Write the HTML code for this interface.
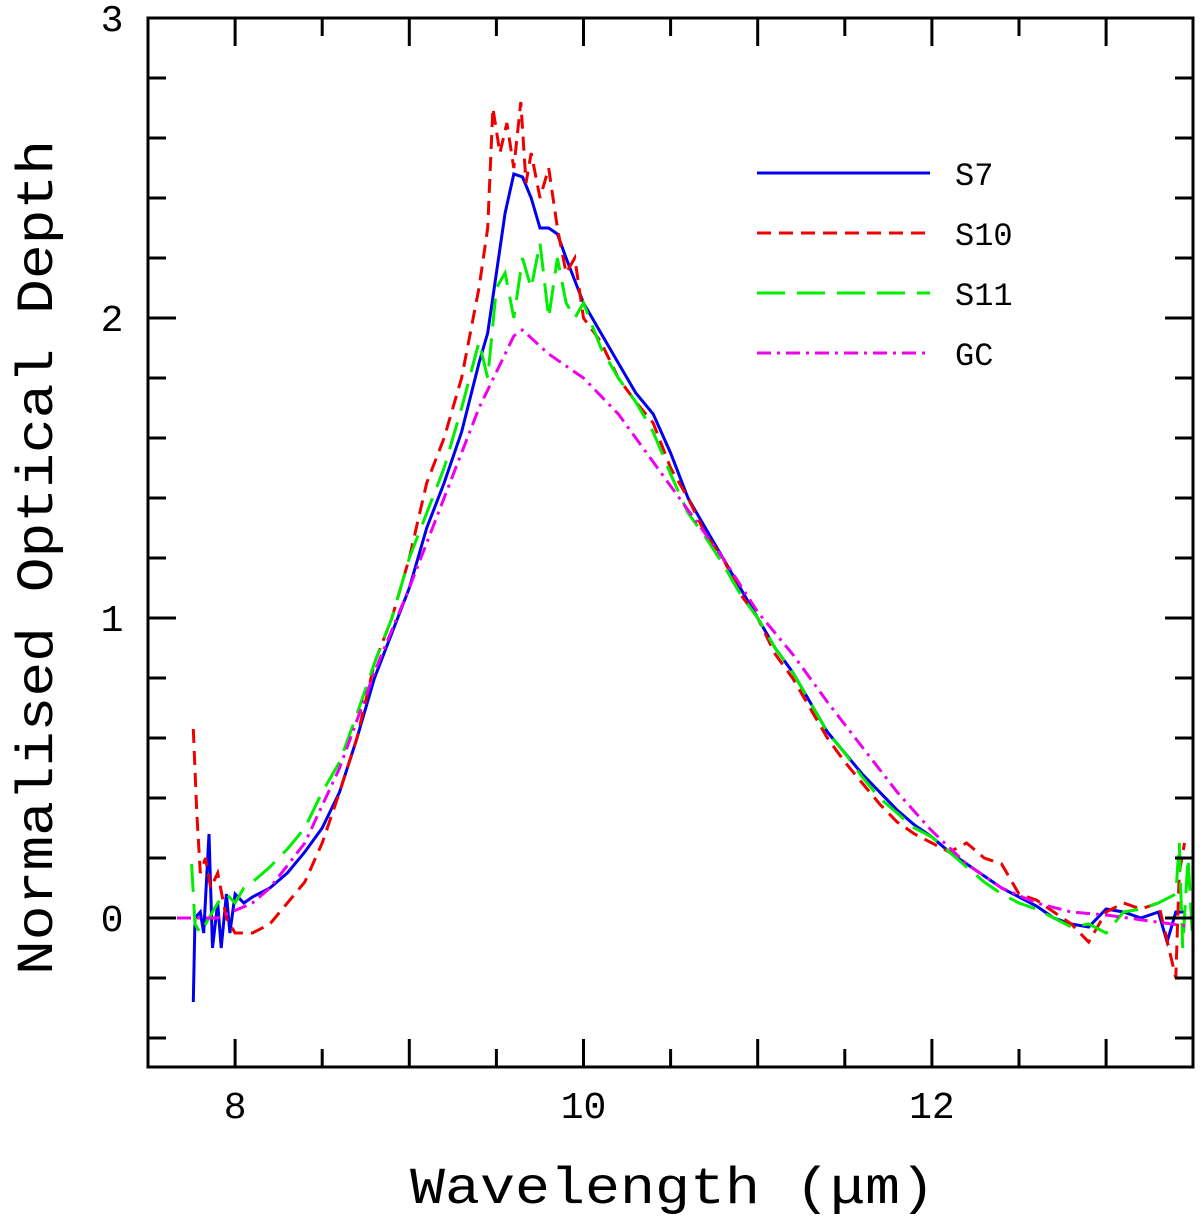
<!DOCTYPE html>
<html><head><meta charset="utf-8"><style>
body{margin:0;background:#fff}
svg text{font-family:"Liberation Mono",monospace;fill:#000}
</style></head><body>
<svg id="c" width="1200" height="1220" xmlns="http://www.w3.org/2000/svg">
<g id="marks"></g>
<rect x="148" y="18" width="1045" height="1049" fill="none" stroke="#000" stroke-width="3"/>
<g id="ticks" stroke="#000" stroke-width="3"></g>
<g id="labels" font-size="38" text-anchor="middle"></g>
<text x="410" y="1203" font-size="52" textLength="525" lengthAdjust="spacingAndGlyphs">Wavelength (μm)</text>
<text transform="translate(52,975) rotate(-90)" font-size="52" textLength="835" lengthAdjust="spacingAndGlyphs">Normalised Optical Depth</text>
<g id="legend" font-size="32"></g>
</svg>
<script>
const xTicksLabeled=[8,10,12];
const yTicksLabeled=[0,1,2,3];
const s7x=[7.76,7.77,7.8,7.82,7.85,7.87,7.9,7.92,7.95,7.97,8.0,8.05,8.1,8.2,8.3,8.4,8.5,8.6,8.7,8.8,8.9,9.0,9.1,9.2,9.3,9.4,9.45,9.5,9.55,9.6,9.65,9.7,9.75,9.8,9.85,9.9,10.0,10.1,10.2,10.3,10.4,10.5,10.6,10.7,10.8,10.9,11.0,11.1,11.2,11.3,11.4,11.5,11.6,11.7,11.8,11.9,12.0,12.1,12.2,12.3,12.4,12.5,12.6,12.7,12.8,12.9,13.0,13.1,13.2,13.3,13.35,13.4,13.45];
const s7y=[-0.28,0.0,0.02,-0.05,0.28,-0.1,0.05,-0.1,0.08,-0.05,0.08,0.05,0.07,0.1,0.15,0.22,0.3,0.42,0.6,0.8,0.95,1.1,1.3,1.45,1.62,1.85,1.95,2.15,2.35,2.48,2.47,2.4,2.3,2.3,2.28,2.2,2.05,1.95,1.85,1.75,1.68,1.55,1.4,1.3,1.2,1.1,1.0,0.9,0.82,0.72,0.62,0.55,0.48,0.42,0.36,0.31,0.27,0.22,0.18,0.14,0.1,0.07,0.04,0.0,-0.02,-0.03,0.03,0.02,0.0,0.02,-0.08,0.02,0.02];
const s10x=[7.76,7.78,7.8,7.83,7.86,7.9,7.95,8.0,8.1,8.2,8.3,8.4,8.5,8.6,8.7,8.8,8.9,9.0,9.1,9.2,9.3,9.4,9.45,9.48,9.52,9.56,9.6,9.64,9.67,9.7,9.75,9.8,9.85,9.9,9.95,10.0,10.1,10.2,10.3,10.4,10.5,10.6,10.7,10.8,10.9,11.0,11.1,11.2,11.3,11.4,11.5,11.6,11.7,11.8,11.9,12.0,12.1,12.2,12.3,12.4,12.5,12.6,12.7,12.8,12.9,13.0,13.1,13.2,13.3,13.4,13.42,13.45];
const s10y=[0.63,0.35,0.15,0.2,0.1,0.15,0.0,-0.05,-0.05,-0.02,0.05,0.12,0.25,0.42,0.6,0.85,1.0,1.2,1.45,1.6,1.8,2.1,2.3,2.7,2.55,2.65,2.5,2.72,2.45,2.55,2.4,2.5,2.3,2.15,2.2,2.0,1.92,1.8,1.72,1.65,1.5,1.4,1.28,1.2,1.08,1.0,0.88,0.8,0.7,0.6,0.52,0.45,0.38,0.32,0.28,0.25,0.22,0.25,0.2,0.18,0.08,0.06,0.02,-0.02,-0.08,0.02,0.05,0.03,0.05,-0.2,0.15,0.25];
const s11x=[7.75,7.77,7.8,7.85,7.9,7.95,8.0,8.05,8.1,8.2,8.3,8.4,8.5,8.6,8.7,8.8,8.9,9.0,9.1,9.2,9.3,9.4,9.45,9.5,9.55,9.6,9.65,9.7,9.75,9.8,9.85,9.9,9.95,10.0,10.1,10.2,10.3,10.4,10.5,10.6,10.7,10.8,10.9,11.0,11.1,11.2,11.3,11.4,11.5,11.6,11.7,11.8,11.9,12.0,12.1,12.2,12.3,12.4,12.5,12.6,12.7,12.8,12.9,13.0,13.1,13.2,13.3,13.4,13.42,13.44,13.47,13.5];
const s11y=[0.18,-0.02,-0.05,0.0,0.05,0.08,0.05,0.1,0.12,0.17,0.23,0.3,0.42,0.52,0.68,0.85,1.0,1.2,1.35,1.5,1.7,1.92,1.8,2.1,2.15,2.0,2.2,2.1,2.25,2.0,2.2,2.05,2.0,2.05,1.9,1.8,1.72,1.62,1.48,1.35,1.27,1.18,1.08,1.0,0.9,0.82,0.72,0.62,0.55,0.47,0.4,0.35,0.3,0.27,0.22,0.17,0.12,0.08,0.05,0.03,0.0,-0.03,-0.02,-0.05,0.02,0.03,0.05,0.08,0.25,-0.1,0.2,-0.1];
const gcx=[7.5,7.9,8.1,8.2,8.4,8.6,8.8,9.0,9.2,9.4,9.6,9.65,9.8,10.0,10.2,10.4,10.6,10.8,11.0,11.2,11.4,11.6,11.8,12.0,12.2,12.4,12.6,12.8,13.0,13.5];
const gcy=[0,0,0.05,0.1,0.25,0.5,0.82,1.1,1.4,1.7,1.94,1.96,1.88,1.8,1.68,1.52,1.36,1.2,1.02,0.88,0.72,0.57,0.42,0.29,0.18,0.1,0.05,0.02,0.01,-0.03];
const series=[
 {name:'S7',x:s7x,y:s7y,color:'#0000ee',dash:''},
 {name:'S10',x:s10x,y:s10y,color:'#ee0000',dash:'14,8'},
 {name:'S11',x:s11x,y:s11y,color:'#00ee00',dash:'28,12'},
 {name:'GC',x:gcx,y:gcy,color:'#ee00ee',dash:'14,6,3,6'}
];
const X=v=>148+(v-7.5)*174.2;
const Y=v=>918-v*300;
const NS='http://www.w3.org/2000/svg';
function mk(tag,parent){const e=document.createElementNS(NS,tag);document.getElementById(parent).appendChild(e);return e;}
series.forEach(s=>{
 const p=mk('path','marks');
 
 
 p.setAttribute('d',s.x.map((v,i)=>(i?'L':'M')+X(v).toFixed(1)+','+Y(s.y[i]).toFixed(1)).join(''));
 p.setAttribute('fill','none');p.setAttribute('stroke',s.color);p.setAttribute('stroke-width','3');
 if(s.dash)p.setAttribute('stroke-dasharray',s.dash);
});
for(let v=8;v<=13.01;v+=0.5){
 const len=Number.isInteger(v)?28:18;
 const t=mk('path','ticks');
 
 
 t.setAttribute('d',`M${X(v)},1067V${1067-len}M${X(v)},18V${18+len}`);
}
for(let i=-2;i<=14;i++){const v=i*0.2;
 const len=(i%5===0)?28:18;
 const t=mk('path','ticks');
 
 
 t.setAttribute('d',`M148,${Y(v)}H${148+len}M1193,${Y(v)}H${1193-len}`);
}
xTicksLabeled.forEach(v=>{const t=mk('text','labels');
 
 
 t.setAttribute('x',X(v));t.setAttribute('y',1118);t.textContent=v;});
yTicksLabeled.forEach(v=>{const t=mk('text','labels');
 
 
 t.setAttribute('x',112);t.setAttribute('y',Y(v)+13);t.textContent=v;});
series.forEach((s,i)=>{const y=173+i*60;
 const l=mk('line','legend');
 
 
 l.setAttribute('x1',757);l.setAttribute('x2',930);l.setAttribute('y1',y);l.setAttribute('y2',y);
 l.setAttribute('stroke',s.color);l.setAttribute('stroke-width','3');if(s.dash)l.setAttribute('stroke-dasharray',s.dash);
 const t=mk('text','legend');
 
 
 t.setAttribute('x',955);t.setAttribute('y',y+12);t.textContent=s.name;});
</script>
</body></html>
